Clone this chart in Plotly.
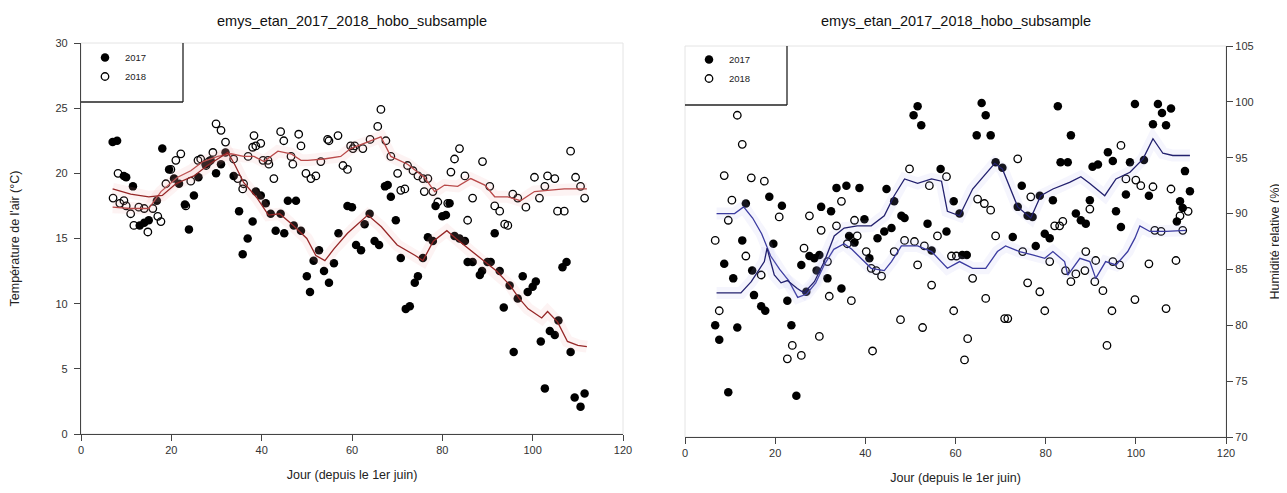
import plotly.graph_objects as go

# ---------------- DATA ----------------
# Temperature (left panel)
temp17_day = [7, 8, 9.5, 10, 11.5, 13, 14, 15, 16.8, 18, 19.5, 20.6, 21.7, 23, 23.9, 25, 26, 27.6, 28.7, 29.9,
              31, 32, 33.8, 35, 35.8, 36.9, 38, 38.7, 39.8, 40.9, 42, 43.1, 44.2, 45, 45.8, 47.1, 47.6, 48.7,
              50, 50.7, 51.5, 52.7, 53.8, 54.9, 56, 57, 59, 60, 60.9, 62, 62.8, 63.9, 65, 66, 67.3, 67.9,
              68.6, 69.7, 70.8, 71.9, 72.8, 73.9, 74.6, 75.7, 76.8, 77.9, 78.5, 80, 80.8, 81.6, 82.7, 83.8,
              85, 85.6, 86.7, 88.3, 88.8, 90, 90.7, 91.6, 92.7, 93.6, 94.9, 95.8, 96.7, 97.8, 98.9, 100,
              100.7, 101.8, 102.7, 103.8, 104.9, 105.7, 106.6, 107.5, 108.4, 109.3, 110.6, 111.5]
temp17_val = [22.4, 22.5, 19.8, 19.7, 19.0, 16.0, 16.2, 16.4, 17.9, 21.9, 20.3, 19.6, 19.2, 17.6, 15.7, 18.3, 19.7,
              20.7, 21.0, 20.0, 20.7, 21.6, 19.8, 17.1, 13.8, 15.0, 16.3, 18.6, 18.3, 17.7, 16.9, 15.6, 16.9,
              15.4, 17.9, 16.0, 17.9, 15.6, 12.1, 10.9, 13.3, 14.1, 12.5, 11.6, 13.1, 15.4, 17.5, 17.4, 14.5,
              14.1, 16.1, 16.9, 14.8, 14.5, 19.0, 19.1, 18.2, 16.4, 13.5, 9.6, 9.8, 11.6, 12.1, 13.5, 15.1,
              14.8, 17.5, 16.7, 16.8, 17.7, 15.2, 15.0, 14.8, 13.2, 13.2, 12.2, 12.5, 13.2, 13.2, 15.4, 12.5,
              9.7, 11.4, 6.3, 10.4, 12.1, 10.9, 11.3, 11.7, 7.1, 3.5, 7.9, 7.6, 8.7, 12.8, 13.2, 6.3, 2.8,
              2.1, 3.1]

temp18_day = [7.1, 8.2, 8.6, 9.5, 10, 11, 11.7, 12.8, 14, 14.8, 15.9, 17, 17.7, 18.8, 19.9, 21, 22.1, 23.2, 24.3,
              25.9, 26.5, 27.7, 28.3, 29.2, 29.9, 31, 32, 33.8, 34.7, 35.8, 36, 37, 38, 38.3, 38.7, 39.8, 40.3,
              41.4, 41.6, 42.7, 44.2, 44.9, 46.5, 46.9, 48.2, 48.7, 49.8, 50.9, 52, 53.1, 54.6, 54.9, 56.9, 58,
              59, 59.7, 60.2, 60.6, 62.4, 64, 65.7, 66.4, 67.5, 68.6, 70.1, 70.8, 71.7, 72.3, 73.5, 74.6, 75.7,
              76, 76.8, 77.9, 79, 81.2, 81.9, 82.7, 83.8, 85, 85.6, 86.7, 88.9, 90.5, 91.6, 92.7, 93.8, 94.5,
              95.6, 96.7, 98.5, 100.4, 101.5, 102.7, 103.3, 104.9, 105.5, 107, 108.4, 109.5, 110.6, 111.5]
temp18_val = [18.1, 20.0, 17.7, 17.9, 17.5, 16.9, 16.0, 17.4, 17.3, 15.5, 17.3, 16.7, 16.3, 19.2, 20.3, 21.0, 21.5,
              17.5, 19.4, 21.0, 21.1, 20.6, 20.9, 21.6, 23.8, 23.3, 22.4, 21.1, 19.6, 18.8, 19.2, 21.3, 22.0,
              22.9, 22.1, 22.3, 21.0, 21.0, 20.7, 19.6, 23.2, 22.5, 21.3, 20.7, 23.0, 22.1, 20.0, 19.6, 19.8,
              20.9, 22.6, 22.5, 22.9, 20.6, 20.3, 22.1, 21.9, 22.1, 21.9, 22.6, 23.6, 24.9, 22.5, 21.3, 20.0,
              18.7, 18.8, 20.6, 20.2, 19.8, 19.6, 18.6, 19.6, 18.6, 17.8, 17.7, 20.1, 21.1, 21.9, 19.8, 16.4,
              18.1, 20.9, 19.0, 17.5, 17.1, 16.1, 16.0, 18.4, 18.1, 17.4, 19.7, 18.1, 19.0, 19.8, 19.6, 17.1,
              17.1, 21.7, 19.7, 19.0, 18.1]

temp17_fit_day = [7, 11, 15, 18, 21, 25, 28, 31, 32.5, 34, 36, 39, 41.5, 44, 47, 50, 52, 54, 56, 59, 61, 63.5,
                  66.5, 70, 74, 75.7, 78, 81, 83, 88, 92, 95, 97, 99, 102, 103.3, 105.5, 107.7, 110, 112]
temp17_fit = [18.8, 18.4, 18.2, 18.3, 19.2, 19.8, 20.6, 21.3, 21.6, 20.7, 19.3, 18.1, 16.8, 16.9, 16.0, 15.0,
              13.7, 13.3, 14.2, 15.4, 16.0, 16.8, 15.9, 14.5, 13.7, 13.3, 14.8, 15.6, 15.0, 13.6, 12.5, 11.4,
              10.4, 9.6, 8.9, 9.4, 8.6, 7.1, 6.8, 6.7]

temp18_fit_day = [7, 11, 15, 17.7, 21.4, 24.3, 27, 30.3, 33.2, 36, 38.3, 40.5, 43.6, 46.5, 48.7, 50.2, 53.8,
                  57.5, 59.7, 63.5, 66.4, 68.6, 72.3, 76, 78.3, 80.5, 83.4, 86.3, 89.4, 91.6, 94.5, 97.3, 100.4,
                  103.3, 107, 110.6, 112]
temp18_fit = [17.4, 17.3, 17.3, 18.6, 19.7, 20.2, 20.9, 21.3, 21.5, 21.3, 21.3, 20.9, 21.7, 21.5, 21.0, 21.0,
              21.1, 21.3, 21.9, 22.4, 22.8, 21.3, 20.7, 19.7, 18.6, 19.1, 19.0, 19.6, 19.1, 18.2, 18.2, 17.9,
              18.6, 18.7, 18.8, 18.8, 18.8]

# Relative humidity (right panel)
hum17_day = [6.7, 7.6, 8.7, 9.6, 10.7, 11.6, 12.7, 13.5, 14.9, 15.3, 16.9, 17.8, 18.7, 19.6, 21.5, 22.7, 23.6,
             24.7, 25.8, 26.9, 27.6, 28.7, 29.2, 29.8, 30.2, 31.6, 32.4, 33.6, 34.7, 35.8, 36.4, 37.6, 38.7,
             39.8, 40.9, 42.7, 44.2, 44.7, 45.8, 46.4, 48.0, 48.7, 50.7, 51.6, 52.4, 53.8, 54.7, 56.7, 58.0,
             59.6, 60.9, 61.5, 62.5, 64.7, 65.8, 66.7, 67.8, 68.9, 70.4, 72.7, 73.8, 74.7, 76.0, 77.1, 77.8,
             78.7, 79.8, 80.9, 81.6, 82.7, 83.3, 84.9, 85.6, 86.7, 87.8, 88.9, 89.8, 90.4, 91.6, 93.8, 94.9,
             95.6, 96.7, 97.8, 98.7, 99.8, 101.8, 102.9, 103.8, 104.9, 105.8, 106.7, 107.8, 109.1, 109.8,
             110.4, 110.9, 112.0]
hum17_val = [80.0, 78.7, 85.5, 74.0, 84.2, 79.8, 87.6, 90.9, 84.9, 82.7, 81.7, 81.3, 91.5, 87.3, 90.7, 82.2, 80.0,
             73.7, 85.4, 83.0, 86.2, 86.0, 84.9, 86.3, 90.6, 84.2, 90.2, 92.3, 83.3, 92.5, 88.0, 87.4, 92.3,
             89.5, 86.0, 87.8, 88.4, 92.2, 88.7, 91.1, 89.8, 89.6, 98.8, 99.6, 97.9, 89.1, 86.7, 94.0, 88.4,
             91.1, 90.0, 86.3, 86.3, 97.0, 99.9, 98.8, 97.0, 94.6, 94.1, 87.9, 90.6, 92.5, 89.8, 89.7, 87.1,
             91.6, 88.2, 87.8, 91.2, 99.6, 94.6, 94.6, 97.0, 90.0, 89.4, 89.1, 91.2, 94.2, 94.4, 95.5, 94.7,
             90.2, 88.8, 91.7, 94.6, 99.8, 94.8, 91.6, 98.0, 99.8, 99.0, 97.9, 99.4, 89.3, 91.1, 90.5, 93.8,
             92.0]

hum18_day = [6.7, 7.6, 8.7, 9.6, 10.4, 11.6, 12.7, 13.5, 14.7, 16.9, 17.6, 20.9, 22.7, 23.8, 25.8, 26.4, 27.6,
             29.8, 30.2, 31.6, 32.0, 33.6, 34.7, 36.0, 36.9, 37.6, 38.2, 40.2, 41.3, 41.6, 42.4, 43.6, 46.4,
             47.8, 48.7, 49.8, 50.9, 51.6, 52.7, 53.1, 54.2, 54.7, 56.0, 58.0, 59.1, 59.6, 60.2, 62.0, 62.7,
             63.8, 64.9, 66.4, 66.7, 67.8, 68.9, 70.9, 71.6, 73.8, 74.9, 76.0, 76.7, 78.7, 79.8, 80.9, 82.0,
             83.1, 83.8, 84.4, 85.6, 86.7, 88.7, 88.9, 89.8, 90.9, 91.1, 92.7, 93.6, 94.7, 94.9, 96.4, 96.7,
             97.8, 99.8, 100.0, 101.1, 102.9, 103.8, 104.2, 105.6, 106.7, 107.8, 108.9, 109.8, 110.4, 111.6]
hum18_val = [87.6, 81.3, 93.4, 89.4, 91.2, 98.8, 96.2, 86.2, 93.2, 84.5, 92.9, 89.7, 77.0, 78.2, 77.3, 86.9, 89.8,
             79.0, 88.5, 85.7, 82.6, 88.9, 91.1, 87.3, 82.2, 89.4, 88.0, 86.6, 85.1, 77.7, 84.9, 84.4, 86.6,
             80.5, 87.6, 94.0, 87.5, 85.4, 79.8, 87.1, 92.5, 83.6, 88.0, 93.3, 86.2, 81.3, 86.2, 76.9, 78.8,
             84.2, 91.3, 90.9, 82.4, 90.3, 88.0, 80.6, 80.6, 94.9, 86.6, 83.8, 91.5, 83.0, 81.3, 85.7, 88.9,
             88.9, 89.3, 84.9, 83.9, 84.6, 84.9, 86.6, 90.4, 83.9, 85.8, 83.1, 78.2, 81.3, 85.7, 85.4, 96.1,
             93.1, 82.3, 93.0, 92.5, 85.5, 92.4, 88.5, 88.4, 81.5, 92.2, 85.8, 89.8, 88.5, 90.2]

hum17_fit_day = [7, 12.4, 14.7, 17.6, 18.2, 19.8, 21.3, 22.7, 24.9, 26.4, 28.7, 30.9, 33.1, 35.3, 38.2, 41.3,
                 44.2, 46.4, 48.7, 51.6, 54.7, 56.9, 58.2, 60.9, 63.8, 68.7, 70.4, 73.8, 76.7, 78.9, 81.6, 85.3,
                 87.8, 89.8, 93.1, 95.6, 98.7, 101.6, 103.8, 106, 108.2, 112]
hum17_fit = [82.9, 82.9, 83.9, 85.7, 86.9, 84.5, 83.8, 84.0, 83.3, 82.9, 83.9, 85.7, 88.0, 88.7, 88.9, 88.9, 89.8,
             91.6, 93.1, 92.7, 93.1, 92.9, 90.2, 89.8, 92.2, 94.5, 94.0, 90.6, 89.6, 91.6, 92.2, 92.8, 93.3,
             92.7, 91.6, 93.1, 93.7, 94.9, 96.7, 95.4, 95.2, 95.2]

hum18_fit_day = [7, 11, 13, 15, 17, 19, 21, 23, 25, 27, 29, 31, 33, 35.3, 37, 39, 41.3, 44.2, 45.8, 48, 51.6,
                 54.7, 58.2, 60.9, 63.8, 66.7, 69.3, 71.1, 74.2, 77.1, 79.8, 81.6, 84.2, 84.9, 87.6, 89.8, 91.1,
                 93.3, 95.6, 98.2, 99.8, 100.9, 103.1, 106.7, 111.1]
hum18_fit = [90.0, 90.0, 90.6, 89.6, 88.2, 86.2, 85.0, 84.0, 82.5, 82.8, 83.8, 85.5, 86.8, 87.3, 86.8, 86.0, 85.1,
             84.9, 85.7, 87.1, 87.1, 86.6, 85.1, 85.7, 85.1, 85.1, 86.6, 87.1, 86.6, 86.3, 86.0, 86.6, 85.7,
             84.5, 86.0, 85.7, 84.2, 85.7, 85.4, 86.6, 87.8, 88.9, 88.4, 88.4, 88.5]

title_text = "emys_etan_2017_2018_hobo_subsample"
x_ticks = [0, 20, 40, 60, 80, 100, 120]
temp_ticks = [0, 5, 10, 15, 20, 25, 30]
hum_ticks = [70, 75, 80, 85, 90, 95, 100, 105]

# ---------------- FIGURE ----------------
W, H = 1287, 493
FONT = "Liberation Sans, Arial, sans-serif"

fig = go.Figure()

def add_points(x, y, filled, name, xa, ya, legend):
    if filled:
        marker = dict(symbol="circle", size=8.5, color="black", line=dict(width=0))
    else:
        marker = dict(symbol="circle-open", size=7.5, color="black", line=dict(width=1.3, color="black"))
    fig.add_trace(go.Scatter(x=x, y=y, mode="markers", name=name, marker=marker,
                             xaxis=xa, yaxis=ya, legend=legend, showlegend=True))

def add_line(x, y, color, halo, xa, ya):
    fig.add_trace(go.Scatter(x=x, y=y, mode="lines", line=dict(color=halo, width=12),
                             xaxis=xa, yaxis=ya, showlegend=False, hoverinfo="skip"))
    fig.add_trace(go.Scatter(x=x, y=y, mode="lines", line=dict(color=color, width=1.3),
                             xaxis=xa, yaxis=ya, showlegend=False))

# left panel
add_points(temp17_day, temp17_val, True, "2017", "x", "y", "legend")
add_points(temp18_day, temp18_val, False, "2018", "x", "y", "legend")
add_line(temp18_fit_day, temp18_fit, "#b94a4a", "rgba(240,160,160,0.13)", "x", "y")
add_line(temp17_fit_day, temp17_fit, "#962626", "rgba(240,160,160,0.13)", "x", "y")

# right panel
add_points(hum17_day, hum17_val, True, "2017", "x2", "y2", "legend2")
add_points(hum18_day, hum18_val, False, "2018", "x2", "y2", "legend2")
add_line(hum18_fit_day, hum18_fit, "#3b3ba0", "rgba(170,170,240,0.12)", "x2", "y2")
add_line(hum17_fit_day, hum17_fit, "#22206e", "rgba(170,170,240,0.12)", "x2", "y2")

L1, R1 = 73 / W, 615 / W
T1, B1 = 1 - 35 / H, 1 - 426 / H
L2, R2 = 677 / W, 1218 / W
T2, B2 = 1 - 38 / H, 1 - 429 / H

tickfont = dict(family=FONT, size=11, color="#333333")
titlefont = dict(family=FONT, size=12.5, color="#222222")

axis_common = dict(showgrid=False, zeroline=False, showline=True, linecolor="#444444", linewidth=1.2,
                   ticks="outside", ticklen=6, tickcolor="#444444", tickfont=tickfont)

fig.update_layout(
    width=W, height=H,
    margin=dict(l=0, r=0, t=0, b=0),
    paper_bgcolor="white", plot_bgcolor="white",
    xaxis=dict(domain=[L1, R1], anchor="y", range=[0, 120], tickvals=x_ticks,
               title=dict(text="Jour (depuis le 1er juin)", font=titlefont, standoff=14),
               automargin=False, **axis_common),
    yaxis=dict(domain=[B1, T1], anchor="x", range=[0, 30], tickvals=temp_ticks, ticklabelstandoff=4,
               title=dict(text="Température de l'air (°C)", font=titlefont, standoff=38),
               automargin=False, **axis_common),
    xaxis2=dict(domain=[L2, R2], anchor="y2", range=[0, 120], tickvals=x_ticks,
                title=dict(text="Jour (depuis le 1er juin)", font=titlefont, standoff=14),
                automargin=False, **axis_common),
    yaxis2=dict(domain=[B2, T2], anchor="x2", side="right", range=[70, 105], tickvals=hum_ticks,
                title=dict(text="Humidité relative (%)", font=titlefont, standoff=17),
                automargin=False, **axis_common),
    legend=dict(x=L1 + 4 / W, y=1 - 35 / H, xanchor="left", yanchor="top", bgcolor="rgba(0,0,0,0)",
                font=dict(family=FONT, size=9.5, color="#222222"), itemwidth=30, tracegroupgap=0),
    legend2=dict(x=L2 + 4 / W, y=1 - 37 / H, xanchor="left", yanchor="top", bgcolor="rgba(0,0,0,0)",
                 font=dict(family=FONT, size=9.5, color="#222222"), itemwidth=30, tracegroupgap=0),
    showlegend=True,
)

# titles
fig.add_annotation(text=title_text, x=(L1 + R1) / 2, y=1 - 13 / H, xref="paper", yref="paper",
                   xanchor="center", yanchor="middle",
                   showarrow=False, font=dict(family=FONT, size=14.5, color="#111111"))
fig.add_annotation(text=title_text, x=(L2 + R2) / 2, y=1 - 13 / H, xref="paper", yref="paper",
                   xanchor="center", yanchor="middle",
                   showarrow=False, font=dict(family=FONT, size=14.5, color="#111111"))

# faint frame around plot areas
fig.add_shape(type="rect", xref="paper", yref="paper", x0=L1, x1=R1, y0=B1, y1=T1,
              line=dict(color="#e4e4e4", width=1), layer="below")
fig.add_shape(type="rect", xref="paper", yref="paper", x0=L2, x1=R2, y0=B2, y1=T2,
              line=dict(color="#e4e4e4", width=1), layer="below")

# legend box edges (right + bottom)
fig.add_shape(type="line", xref="paper", yref="paper", x0=175 / W, x1=175 / W, y0=1 - 94 / H, y1=T1,
              line=dict(color="#222222", width=1.3))
fig.add_shape(type="line", xref="paper", yref="paper", x0=L1, x1=175 / W, y0=1 - 94 / H, y1=1 - 94 / H,
              line=dict(color="#222222", width=1.6))
fig.add_shape(type="line", xref="paper", yref="paper", x0=779 / W, x1=779 / W, y0=1 - 97 / H, y1=T2,
              line=dict(color="#222222", width=1.3))
fig.add_shape(type="line", xref="paper", yref="paper", x0=L2, x1=779 / W, y0=1 - 97 / H, y1=1 - 97 / H,
              line=dict(color="#222222", width=1.6))

fig.write_html("out.html")
